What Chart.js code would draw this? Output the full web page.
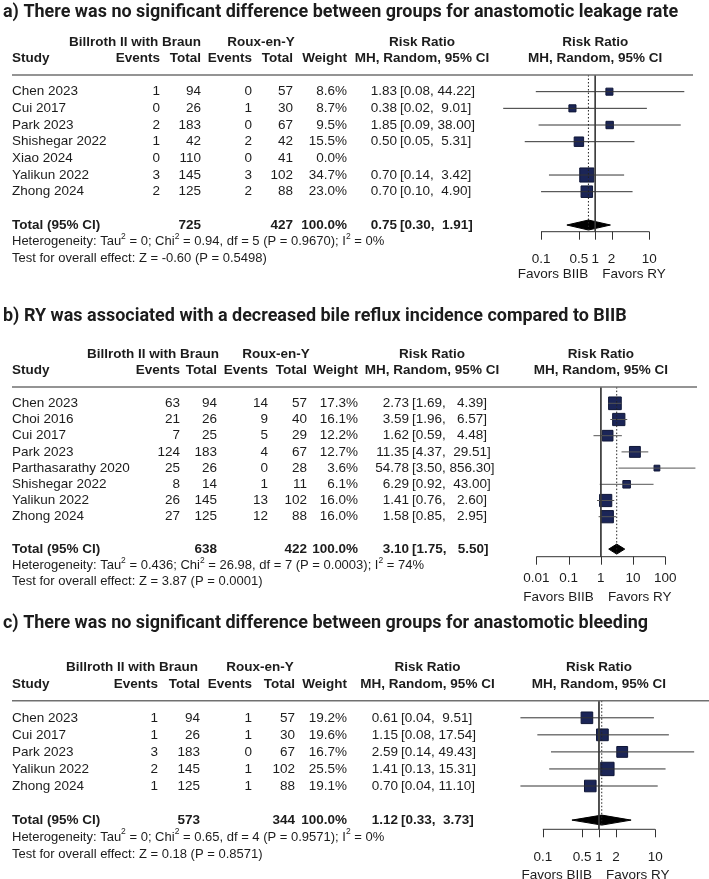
<!DOCTYPE html>
<html>
<head>
<meta charset="utf-8">
<title>Forest plots BIIB vs RY</title>
<script src="https://cdn.jsdelivr.net/npm/chart.js@4.4.1/dist/chart.umd.min.js"></script>
<style>
  body { margin: 0; background: #fff; }
  canvas { position: absolute; left: 0; }
</style>
</head>
<body>
<canvas id="plotA" width="709" height="290" style="top:0px"></canvas>
<canvas id="plotB" width="709" height="322" style="top:290px"></canvas>
<canvas id="plotC" width="709" height="279" style="top:600px"></canvas>
<script>
// a) anastomotic leakage
const titleA = 'a) There was no significant difference between groups for anastomotic leakage rate';
const studiesA = ['Chen 2023', 'Cui 2017', 'Park 2023', 'Shishegar 2022', 'Xiao 2024', 'Yalikun 2022', 'Zhong 2024'];
const eventsBiibA = [1, 0, 2, 1, 0, 3, 2];
const totalBiibA = [94, 26, 183, 42, 110, 145, 125];
const eventsRyA = [0, 1, 0, 2, 0, 3, 2];
const totalRyA = [57, 30, 67, 42, 41, 102, 88];
const weightA = [8.6, 8.7, 9.5, 15.5, 0.0, 34.7, 23.0];
const rrA = [1.83, 0.38, 1.85, 0.50, null, 0.70, 0.70];
const lowerA = [0.08, 0.02, 0.09, 0.05, null, 0.14, 0.10];
const upperA = [44.22, 9.01, 38.00, 5.31, null, 3.42, 4.90];
const sumsA = [725, 427];
const overallA = [0.75, 0.30, 1.91];
const hetA = ['0', '0.94', 5, '0.9670', 0];
const testA = ['-0.60', '0.5498'];
const ticksA = [0.1, 0.5, 1, 2, 10];
const tickLabelsA = ['0.1', '0.5', '1', '2', '10'];

// b) bile reflux
const titleB = 'b) RY was associated with a decreased bile reflux incidence compared to BIIB';
const studiesB = ['Chen 2023', 'Choi 2016', 'Cui 2017', 'Park 2023', 'Parthasarathy 2020', 'Shishegar 2022', 'Yalikun 2022', 'Zhong 2024'];
const eventsBiibB = [63, 21, 7, 124, 25, 8, 26, 27];
const totalBiibB = [94, 26, 25, 183, 26, 14, 145, 125];
const eventsRyB = [14, 9, 5, 4, 0, 1, 13, 12];
const totalRyB = [57, 40, 29, 67, 28, 11, 102, 88];
const weightB = [17.3, 16.1, 12.2, 12.7, 3.6, 6.1, 16.0, 16.0];
const rrB = [2.73, 3.59, 1.62, 11.35, 54.78, 6.29, 1.41, 1.58];
const lowerB = [1.69, 1.96, 0.59, 4.37, 3.50, 0.92, 0.76, 0.85];
const upperB = [4.39, 6.57, 4.48, 29.51, 856.30, 43.00, 2.60, 2.95];
const sumsB = [638, 422];
const overallB = [3.10, 1.75, 5.50];
const hetB = ['0.436', '26.98', 7, '0.0003', 74];
const testB = ['3.87', '0.0001'];
const ticksB = [0.01, 0.1, 1, 10, 100];
const tickLabelsB = ['0.01', '0.1', '1', '10', '100'];

// c) anastomotic bleeding
const titleC = 'c) There was no significant difference between groups for anastomotic bleeding';
const studiesC = ['Chen 2023', 'Cui 2017', 'Park 2023', 'Yalikun 2022', 'Zhong 2024'];
const eventsBiibC = [1, 1, 3, 2, 1];
const totalBiibC = [94, 26, 183, 145, 125];
const eventsRyC = [1, 1, 0, 1, 1];
const totalRyC = [57, 30, 67, 102, 88];
const weightC = [19.2, 19.6, 16.7, 25.5, 19.1];
const rrC = [0.61, 1.15, 2.59, 1.41, 0.70];
const lowerC = [0.04, 0.08, 0.14, 0.13, 0.04];
const upperC = [9.51, 17.54, 49.43, 15.31, 11.10];
const sumsC = [573, 344];
const overallC = [1.12, 0.33, 3.73];
const hetC = ['0', '0.65', 4, '0.9571', 0];
const testC = ['0.18', '0.8571'];
const ticksC = [0.1, 0.5, 1, 2, 10];
const tickLabelsC = ['0.1', '0.5', '1', '2', '10'];

const INK = '#1c1c1c';
const BODY = '13.5px "Liberation Sans", Arial, sans-serif';
const BOLD = 'bold 13.5px "Liberation Sans", Arial, sans-serif';
const SMALL = '13px "Liberation Sans", Arial, sans-serif';
const SUP = '8.5px "Liberation Sans", Arial, sans-serif';
const TITLE_FONT = 'bold 19px Roboto, "Liberation Sans", sans-serif';

// titles are a condensed bold face, squeeze Roboto to the same width
const measureCtx = document.createElement('canvas').getContext('2d');
measureCtx.font = TITLE_FONT;
const TITLE_SX = 645 / measureCtx.measureText(titleC).width;

function txt(ctx, s, x, y, align, font) {
  ctx.font = font || BODY;
  ctx.textAlign = align || 'left';
  ctx.fillText(s, x, y);
}

function supLine(ctx, parts, x, y) {
  let cx = x;
  ctx.textAlign = 'left';
  parts.forEach(([s, sup]) => {
    ctx.font = sup ? SUP : SMALL;
    ctx.fillText(s, cx, sup ? y - 5 : y);
    cx += ctx.measureText(s).width;
  });
}

// RevMan style: estimate right aligned, the interval padded with spaces
function rrText(ctx, est, lo, hi, y, lay, font, hiLen) {
  txt(ctx, est.toFixed(2), lay.estR, y, 'right', font);
  const ci = '[' + lo.toFixed(2) + ', ' + hi.toFixed(2).padStart(hiLen, ' ') + ']';
  txt(ctx, ci, lay.estR + 3, y, 'left', font);
}

function drawTable(chart, d, lay) {
  const ctx = chart.ctx, x = chart.scales.x, y = chart.scales.y;
  const n = d.studies.length;
  const ry = y.getPixelForValue(-1);
  const one = x.getPixelForValue(1);
  const hiLen = Math.max(...d.hi.filter(v => v != null).map(v => v.toFixed(2).length), d.overall[2].toFixed(2).length);
  ctx.save();
  ctx.fillStyle = INK;
  ctx.textBaseline = 'middle';

  // title
  ctx.save();
  ctx.translate(3, lay.titleY - lay.top);
  ctx.scale(TITLE_SX, 1);
  txt(ctx, d.title, 0, 0, 'left', TITLE_FONT);
  ctx.restore();

  // column headers
  const h1 = ry - 33, h2 = ry - 16.5;
  txt(ctx, 'Billroth II with Braun', lay.grp1, h1, 'center', BOLD);
  txt(ctx, 'Roux-en-Y', lay.grp2, h1, 'center', BOLD);
  txt(ctx, 'Risk Ratio', lay.rrHead, h1, 'center', BOLD);
  txt(ctx, 'Risk Ratio', one, h1, 'center', BOLD);
  txt(ctx, 'Study', 12, h2, 'left', BOLD);
  txt(ctx, 'Events', lay.e1R, h2, 'right', BOLD);
  txt(ctx, 'Total', lay.n1R, h2, 'right', BOLD);
  txt(ctx, 'Events', lay.e2R, h2, 'right', BOLD);
  txt(ctx, 'Total', lay.n2R, h2, 'right', BOLD);
  txt(ctx, 'Weight', lay.wR, h2, 'right', BOLD);
  txt(ctx, 'MH, Random, 95% CI', lay.rrHead, h2, 'center', BOLD);
  txt(ctx, 'MH, Random, 95% CI', one, h2, 'center', BOLD);

  // rule under the header
  ctx.strokeStyle = '#707070';
  ctx.lineWidth = 1.5;
  ctx.beginPath();
  ctx.moveTo(12, ry);
  ctx.lineTo(lay.plotR, ry);
  ctx.stroke();

  // study rows
  d.studies.forEach((s, i) => {
    const yy = y.getPixelForValue(i);
    txt(ctx, s, 12, yy);
    txt(ctx, String(d.e1[i]), lay.e1R, yy, 'right');
    txt(ctx, String(d.n1[i]), lay.n1R, yy, 'right');
    txt(ctx, String(d.e2[i]), lay.e2R, yy, 'right');
    txt(ctx, String(d.n2[i]), lay.n2R, yy, 'right');
    txt(ctx, d.weight[i].toFixed(1) + '%', lay.wR, yy, 'right');
    if (d.rr[i] != null) rrText(ctx, d.rr[i], d.lo[i], d.hi[i], yy, lay, BODY, hiLen);
  });

  // total row
  const ty = y.getPixelForValue(n + 1);
  txt(ctx, 'Total (95% CI)', 12, ty, 'left', BOLD);
  txt(ctx, String(d.sums[0]), lay.n1R, ty, 'right', BOLD);
  txt(ctx, String(d.sums[1]), lay.n2R, ty, 'right', BOLD);
  txt(ctx, '100.0%', lay.wR, ty, 'right', BOLD);
  rrText(ctx, d.overall[0], d.overall[1], d.overall[2], ty, lay, BOLD, hiLen);

  const het = d.het;
  supLine(ctx, [
    ['Heterogeneity: Tau', 0], ['2', 1], [' = ' + het[0] + '; Chi', 0], ['2', 1],
    [' = ' + het[1] + ', df = ' + het[2] + ' (P = ' + het[3] + '); I', 0], ['2', 1], [' = ' + het[4] + '%', 0]
  ], 12, y.getPixelForValue(n + 2));
  supLine(ctx, [['Test for overall effect: Z = ' + d.test[0] + ' (P = ' + d.test[1] + ')', 0]], 12, y.getPixelForValue(n + 3));

  // bottom axis of the plot
  const ay = chart.chartArea.bottom;
  const x0 = x.getPixelForValue(d.ticks[0]);
  const x1 = x.getPixelForValue(d.ticks[d.ticks.length - 1]);
  ctx.strokeStyle = '#333';
  ctx.lineWidth = 1;
  ctx.beginPath();
  ctx.moveTo(x0, ay);
  ctx.lineTo(x1, ay);
  d.ticks.forEach(t => {
    const px = Math.round(x.getPixelForValue(t)) + 0.5;
    ctx.moveTo(px, ay);
    ctx.lineTo(px, ay + 8);
  });
  ctx.stroke();
  d.ticks.forEach((t, i) => txt(ctx, d.tickLabels[i], x.getPixelForValue(t), lay.tickY - lay.top, 'center'));
  txt(ctx, 'Favors BIIB', one - 7, lay.favY - lay.top, 'right');
  txt(ctx, 'Favors RY', one + 7, lay.favY - lay.top, 'left');
  ctx.restore();
}

function forest(id, d, lay) {
  const canvas = document.getElementById(id);
  const n = d.studies.length, tIdx = n + 1;
  const yMax = (lay.axisY - lay.ruleY) / lay.step - 1;
  const xMin = Math.pow(10, (lay.plotL - lay.one) / lay.ppd);
  const xMax = Math.pow(10, (lay.plotR - lay.one) / lay.ppd);
  const h = 5 / lay.step;
  const ov = d.overall;
  const datasets = [];

  // line of no effect and the pooled estimate
  datasets.push({ type: 'line', data: [{ x: 1, y: -1 }, { x: 1, y: yMax }], borderColor: '#3a3a3a', borderWidth: 1, pointRadius: 0 });
  datasets.push({ type: 'line', data: [{ x: ov[0], y: -1 }, { x: ov[0], y: tIdx + h }], borderColor: '#222', borderWidth: 1, borderDash: [1.5, 2], pointRadius: 0 });

  // confidence intervals
  d.rr.forEach((r, i) => {
    if (r == null) return;
    datasets.push({ type: 'line', data: [{ x: d.lo[i], y: i }, { x: d.hi[i], y: i }], borderColor: lay.ciColor, borderWidth: 1, pointRadius: 0 });
  });

  // weighted squares
  const pts = [], rad = [];
  d.rr.forEach((r, i) => {
    if (r == null) return;
    pts.push({ x: r, y: i });
    rad.push(lay.k * Math.sqrt(d.weight[i]) / Math.SQRT2);
  });
  datasets.push({ type: 'scatter', data: pts, pointStyle: 'rect', pointRadius: rad, backgroundColor: '#1b2557', borderColor: '#0f1636', borderWidth: 1 });

  // pooled diamond
  datasets.push({
    type: 'line',
    data: [{ x: ov[1], y: tIdx }, { x: ov[0], y: tIdx - h }, { x: ov[2], y: tIdx }, { x: ov[0], y: tIdx + h }, { x: ov[1], y: tIdx }],
    fill: 'shape', backgroundColor: '#000', borderColor: '#000', borderWidth: 1, pointRadius: 0, tension: 0
  });

  new Chart(canvas, {
    type: 'scatter',
    data: { datasets },
    options: {
      responsive: false,
      animation: false,
      events: [],
      layout: { padding: { left: lay.plotL, right: 709 - lay.plotR, top: lay.ruleY - lay.top, bottom: canvas.height - (lay.axisY - lay.top) } },
      scales: {
        x: { type: 'logarithmic', min: xMin, max: xMax, display: false },
        y: { type: 'linear', min: -1, max: yMax, reverse: true, display: false }
      },
      plugins: { legend: { display: false }, tooltip: { enabled: false } }
    },
    plugins: [{ id: 'forestText', afterDraw(chart) { drawTable(chart, d, lay); } }]
  });
}

forest('plotA', {
  title: titleA, studies: studiesA, e1: eventsBiibA, n1: totalBiibA, e2: eventsRyA, n2: totalRyA,
  weight: weightA, rr: rrA, lo: lowerA, hi: upperA, sums: sumsA, overall: overallA,
  het: hetA, test: testA, ticks: ticksA, tickLabels: tickLabelsA
}, {
  top: 0, titleY: 12, ruleY: 75, step: 16.67, axisY: 231.7, tickY: 259, favY: 274,
  plotL: 497, plotR: 693, one: 595.2, ppd: 54.15, k: 2.4, ciColor: '#333',
  grp1: 135, grp2: 261, rrHead: 422,
  e1R: 160, n1R: 201, e2R: 252, n2R: 293, wR: 347, estR: 397
});

forest('plotB', {
  title: titleB, studies: studiesB, e1: eventsBiibB, n1: totalBiibB, e2: eventsRyB, n2: totalRyB,
  weight: weightB, rr: rrB, lo: lowerB, hi: upperB, sums: sumsB, overall: overallB,
  het: hetB, test: testB, ticks: ticksB, tickLabels: tickLabelsB
}, {
  top: 290, titleY: 316, ruleY: 387.1, step: 16.2, axisY: 556.7, tickY: 578.3, favY: 597,
  plotL: 497, plotR: 697, one: 600.7, ppd: 32.3, k: 3.05, ciColor: '#555',
  grp1: 153, grp2: 276, rrHead: 432,
  e1R: 180, n1R: 217, e2R: 268, n2R: 307, wR: 358, estR: 409
});

forest('plotC', {
  title: titleC, studies: studiesC, e1: eventsBiibC, n1: totalBiibC, e2: eventsRyC, n2: totalRyC,
  weight: weightC, rr: rrC, lo: lowerC, hi: upperC, sums: sumsC, overall: overallC,
  het: hetC, test: testC, ticks: ticksC, tickLabels: tickLabelsC
}, {
  top: 600, titleY: 623, ruleY: 700.75, step: 17.05, axisY: 829.3, tickY: 857.7, favY: 875,
  plotL: 500, plotR: 709, one: 604.2, ppd: 59.15, k: 2.65, ciColor: '#333',
  grp1: 132, grp2: 260, rrHead: 427.5,
  e1R: 158, n1R: 200, e2R: 252, n2R: 295, wR: 347, estR: 398
});
</script>
</body>
</html>
